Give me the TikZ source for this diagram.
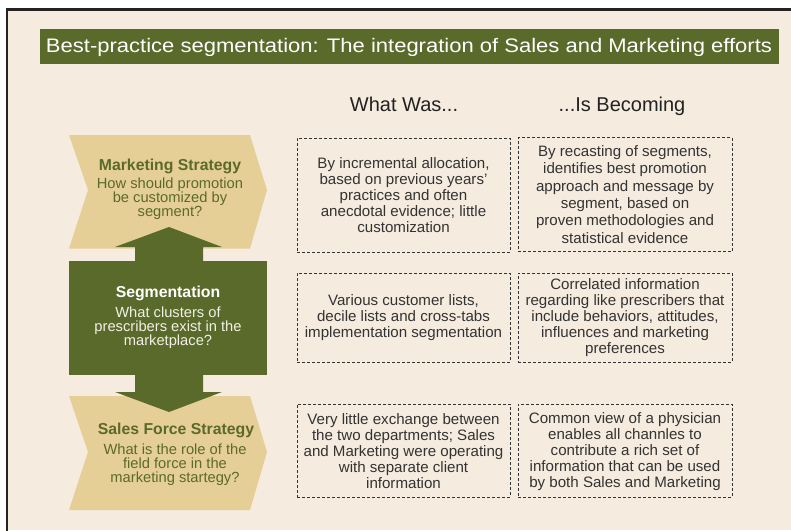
\documentclass[tikz,border=0pt]{standalone}
\usepackage{fontspec}
\setmainfont{Liberation Sans}
\usetikzlibrary{calc}
\definecolor{paper}{HTML}{F5EBDF}
\definecolor{olive}{HTML}{5A6A2A}
\definecolor{wheat}{HTML}{E6CF97}
\definecolor{ink}{HTML}{333333}
\definecolor{frameline}{HTML}{222222}
\definecolor{offwhite}{HTML}{F2F0E6}

\begin{document}
\begin{tikzpicture}[x=1pt,y=-1pt,
  cell/.style={draw=ink, dash pattern=on 3pt off 2pt, line width=0.9pt,
    inner sep=0pt, minimum width=213pt},
  celltext/.style={text=ink, align=center, inner sep=0pt,
    font=\fontsize{15.1}{16}\selectfont},
  chevtitle/.style={anchor=base, inner sep=0pt, text=olive,
    font=\bfseries\fontsize{15.8}{15.8}\selectfont},
  % multi-line bodies are placed by the baseline of their last line
  chevbody/.style={anchor=base, inner sep=0pt, text=olive, align=center,
    font=\fontsize{14.7}{14.2}\selectfont},
  colhead/.style={anchor=base, inner sep=0pt, text=frameline,
    font=\fontsize{20}{20}\selectfont},
  bigarrow/.style={fill=olive}]

\useasboundingbox (0,0) rectangle (791,530);
\fill[white] (0,0) rectangle (791,530);
\fill[paper] (7,9.5) rectangle (791,530);
\draw[frameline, line width=2.5pt] (7,531) -- (7,9.5) -- (792,9.5);

% banner
\node[fill=olive, inner sep=0pt, minimum width=739pt, minimum height=35pt]
  (banner) at (409.5,46.5) {};
\node[anchor=base, inner sep=0pt, text=white] (bannertext) at (409,52.7)
  {\resizebox{726pt}{14.2pt}{\fontsize{19}{19}\selectfont
   Best-practice segmentation: The integration of Sales and Marketing efforts}};

% column headings
\node[colhead] (washead) at (404,111) {What Was...};
\node[colhead] (becomeshead) at (622,111) {...Is Becoming};

% left-hand chevrons and the segmentation block
\fill[wheat] (69,135) -- (250,135) -- (267,190) -- (250,248.5) -- (69,248.5)
  -- (88,190) -- cycle;
\fill[wheat] (69,396) -- (250,396) -- (267,452) -- (250,510) -- (69,510)
  -- (88,452) -- cycle;
\fill[olive] (69,261) rectangle (267,375);

% arrows out of the segmentation block
\fill[bigarrow] (135,262) -- (135,247) -- (115,247) -- (169,227) -- (222,247)
  -- (203,247) -- (203,262) -- cycle;
\fill[bigarrow] (135,374) -- (135,392) -- (115,392) -- (169,412) -- (222,392)
  -- (203,392) -- (203,374) -- cycle;

\node[chevtitle] (mktitle) at (170,170) {Marketing Strategy};
\node[chevbody] (mkbody) at (170,216.7)
  {How should promotion\\be customized by\\segment?};

\node[chevtitle, text=white] (segtitle) at (168,297.3) {Segmentation};
\node[chevbody, text=offwhite] (segbody) at (168,345.7)
  {What clusters of\\prescribers exist in the\\marketplace?};

\node[chevtitle] (sftitle) at (176,434.3) {Sales Force Strategy};
\node[chevbody] (sfbody) at (175,482.4)
  {What is the role of the\\field force in the\\marketing startegy?};

% comparison cells
\node[cell, minimum height=114pt] (was1) at (403.5,195) {};
\node[cell, minimum width=214pt, minimum height=114pt] (becomes1) at (625,194.5) {};
\node[cell, minimum height=89pt] (was2) at (403.5,317.5) {};
\node[cell, minimum width=214pt, minimum height=89pt] (becomes2) at (625,317.5) {};
\node[cell, minimum height=93pt] (was3) at (403.5,450.5) {};
\node[cell, minimum width=214pt, minimum height=93pt] (becomes3) at (625,450.5) {};

\node[celltext] (wastext1) at (was1) {By incremental allocation,\\based on previous years'\\practices and often\\anecdotal evidence; little\\customization};
\node[celltext, font=\fontsize{15.1}{17.3}\selectfont] (becomestext1) at (becomes1)
  {By recasting of segments,\\identifies best promotion\\approach and message by\\segment, based on\\proven methodologies and\\statistical evidence};
\node[celltext] (wastext2) at (was2) {Various customer lists,\\decile lists and cross-tabs\\implementation segmentation};
\node[celltext] (becomestext2) at (becomes2) {Correlated information\\regarding like prescribers that\\include behaviors, attitudes,\\influences and marketing\\preferences};
\node[celltext] (wastext3) at ([yshift=-1pt]was3) {Very little exchange between\\the two departments; Sales\\and Marketing were operating\\with separate client\\information};
\node[celltext] (becomestext3) at ([yshift=-1pt]becomes3) {Common view of a physician\\enables all channles to\\contribute a rich set of\\information that can be used\\by both Sales and Marketing};

\end{tikzpicture}
\end{document}
